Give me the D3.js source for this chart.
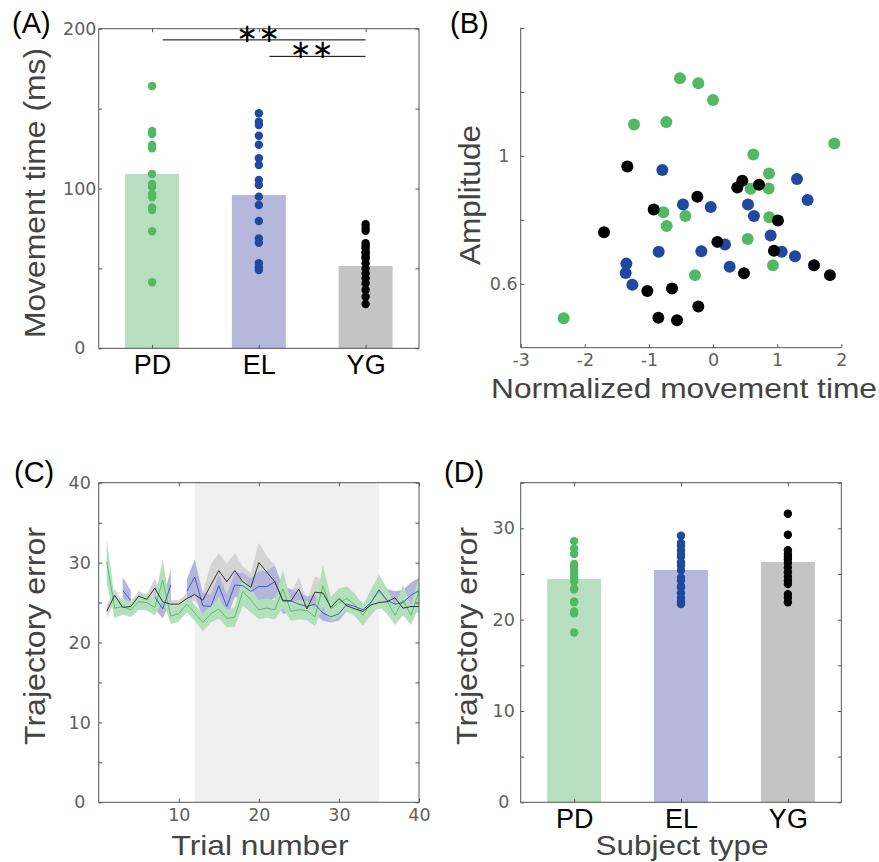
<!DOCTYPE html>
<html>
<head>
<meta charset="utf-8">
<script src="https://cdnjs.cloudflare.com/ajax/libs/d3/7.8.5/d3.min.js"></script>
<style>
body { margin: 0; background: #fff; }
</style>
</head>
<body>
<div id="vis"></div>
<script>
// ---- data ----
const groups = ["PD", "EL", "YG"];
const dotColors = ["#52b963", "#1f48a0", "#000000"];
const barColors = ["#b8dec0", "#b5b8da", "#c3c4c3"];
const lineColors = ["#5cbd6e", "#3d62c2", "#333333"];
const bandColors = ["#b3dfbb", "#b3b5dc", "#d4d4d4"];

// (A) movement time (ms)
const mtMean = [109.1, 95.9, 51.5];
const mtPD = [164.1, 136.0, 134.1, 127.2, 125.1, 109.1, 102.8, 101.1, 96.6, 94.5, 88.2, 86.5, 73.2, 41.3];
const mtEL = [147.1, 141.8, 139.7, 133.0, 127.4, 118.9, 114.7, 105.3, 102.2, 94.9, 89.7, 79.7, 68.8, 66.1, 53.2, 50.7, 49.0];
const mtYG = [77.7, 75.5, 73.6, 65.7, 64.0, 62.6, 60.5, 59.5, 57.5, 56.3, 53.2, 50.0, 46.9, 43.8, 40.6, 36.5, 32.3, 27.7];
const sigPairs = [["PD", "YG"], ["EL", "YG"]];

// (B) normalized movement time vs amplitude
const scPD = [[-0.516, 1.243], [-0.230, 1.227], [-0.001, 1.175], [-1.233, 1.098], [-0.729, 1.106], [1.891, 1.039],
	[0.628, 1.004], [0.872, 0.945], [0.586, 0.897], [0.867, 0.898], [-0.775, 0.824], [-0.432, 0.812],
	[-0.723, 0.781], [0.877, 0.808], [0.540, 0.740], [0.935, 0.658], [-0.282, 0.627], [-2.330, 0.492]];
const scEL = [[-0.791, 0.956], [1.309, 0.928], [1.475, 0.862], [-0.469, 0.848], [-0.037, 0.840], [0.545, 0.848],
	[0.638, 0.812], [0.898, 0.751], [0.186, 0.723], [-0.848, 0.700], [-0.183, 0.702], [1.070, 0.700],
	[1.278, 0.686], [0.259, 0.653], [-1.352, 0.663], [-1.363, 0.634], [-1.259, 0.597]];
const scYG = [[-1.337, 0.967], [0.456, 0.922], [0.378, 0.901], [0.716, 0.910], [-0.245, 0.872], [-0.926, 0.832],
	[1.012, 0.798], [-1.701, 0.761], [0.067, 0.731], [0.950, 0.703], [1.574, 0.658], [1.823, 0.627],
	[0.482, 0.633], [-1.025, 0.577], [-0.640, 0.585], [-0.230, 0.529], [-0.853, 0.494], [-0.562, 0.486]];

// (C) trajectory error per trial (mean, s.e.)
const trials = d3.range(1, 41);
const shadeTrials = [12, 35];
const tePDmean = [30.1, 24.3, 24.5, 24.1, 25.1, 25.0, 24.4, 27.8, 23.3, 23.6, 24.8, 23.7, 22.5, 23.6, 24.2, 23.0, 23.2, 26.4, 25.3, 24.1,
	24.3, 24.1, 26.7, 23.9, 24.1, 24.0, 23.2, 27.1, 24.2, 25.0, 25.5, 24.7, 23.4, 25.0, 26.5, 25.2, 23.4, 25.3, 23.4, 26.4];
const tePDse = [2.7, 1.3, 1.0, 0.9, 1.0, 1.0, 1.0, 2.6, 1.0, 1.0, 1.0, 1.0, 1.1, 1.1, 1.2, 1.1, 1.2, 1.8, 1.5, 1.2,
	1.2, 1.2, 2.4, 1.2, 1.2, 1.2, 1.2, 2.6, 1.5, 1.8, 1.5, 1.4, 1.3, 1.6, 2.0, 1.6, 1.2, 1.9, 1.2, 1.9];
const teELmean = [null, null, 26.5, 25.3, null, null, 25.7, 24.2, 27.2, null, 26.4, 28.2, 24.6, 24.5, 27.1, 24.5, 27.2, 27.1, 26.4, 27.0,
	27.0, 27.6, 25.3, 25.2, 24.8, 24.5, 24.8, 23.7, 23.2, 23.6, 24.8, 24.5, 24.1, 25.0, 26.6, 25.3, 24.8, 25.0, 25.9, 26.5];
const teELse = [null, null, 1.7, 1.2, null, null, 1.5, 1.2, 1.9, null, 1.5, 2.2, 1.6, 1.5, 1.4, 1.5, 1.5, 1.6, 1.6, 1.9,
	2.0, 2.0, 1.7, 1.5, 1.4, 1.3, 1.2, 1.0, 0.7, 0.8, 0.9, 0.9, 0.7, 0.8, 1.0, 1.4, 1.6, 1.6, 1.6, 1.6];
const teYGmean = [23.9, 25.9, 24.4, 24.5, 25.8, 25.4, 26.8, 25.1, 24.8, 24.8, 25.5, 26.0, 25.3, 27.2, 29.0, 27.6, 29.0, 27.6, 26.9, 30.0,
	28.8, 27.6, 25.2, 25.2, 26.7, 24.2, 26.3, 26.2, 24.4, 25.5, 24.6, 24.2, 23.9, 24.7, 25.0, 25.1, 25.6, 24.3, 24.5, 24.5];
const teYGse = [0.8, 0.8, 0.6, 0.6, 0.6, 0.6, 1.2, 0.8, 0.5, 0.5, 0.6, 0.8, 1.0, 2.6, 2.2, 2.3, 2.2, 1.9, 1.8, 2.5,
	2.0, 2.1, 1.0, 1.0, 1.5, 1.0, 2.0, 1.6, 1.0, 1.0, 0.8, 0.8, 0.8, 0.8, 0.8, 0.8, 0.8, 0.8, 0.8, 0.8];

// (D) trajectory error per subject
const teMean = [24.45, 25.44, 26.31];
const tePD = [28.6, 27.8, 27.2, 26.1, 25.8, 25.4, 25.0, 24.6, 24.2, 23.4, 23.3, 22.0, 21.9, 20.9, 20.7, 18.6];
const teEL = [29.2, 28.4, 28.1, 27.6, 27.2, 26.9, 26.3, 25.9, 25.4, 24.6, 24.3, 23.7, 23.5, 22.9, 22.4, 22.0, 21.7];
const teYG = [31.6, 29.3, 27.6, 27.2, 26.9, 26.6, 26.2, 25.7, 25.2, 24.7, 24.3, 23.9, 22.8, 22.4, 21.9];

// ---- drawing ----
const W = 879, H = 862;
const TICK = 3.5;
const axisColor = "#555";
const labelFont = "'Liberation Sans', Arial, sans-serif";
const tickFont = "'DejaVu Sans', sans-serif";

const svg = d3.select("#vis").append("svg")
	.attr("width", W)
	.attr("height", H)
	.style("font-family", labelFont);

const boxA = { l: 98.7, r: 419, t: 28.7, b: 348.3 };
const boxB = { l: 520.7, r: 841.3, t: 28, b: 347.7 };
const boxC = { l: 98.7, r: 419, t: 482.7, b: 802.3 };
const boxD = { l: 520.7, r: 841.3, t: 482.7, b: 802.3 };

const styleAxis = (sel) => {
	sel.select(".domain").remove();
	sel.selectAll(".tick line").attr("stroke", axisColor);
	sel.selectAll(".tick text")
		.attr("fill", "#606060")
		.attr("font-family", tickFont)
		.attr("font-size", 17.5);
};

const frame = (g, box) => {
	g.append("rect")
		.attr("x", box.l).attr("y", box.t)
		.attr("width", box.r - box.l).attr("height", box.b - box.t)
		.attr("fill", "none").attr("stroke", axisColor).attr("stroke-width", 1);
};

const yAxes = (g, box, y, values, fmt, labelDx, both) => {
	const left = g.append("g").attr("transform", `translate(${box.l},0)`)
		.call(d3.axisLeft(y).tickValues(values).tickSize(-TICK).tickFormat(fmt));
	styleAxis(left);
	left.selectAll(".tick text").attr("x", -labelDx).attr("text-anchor", "middle");
	if (both) {
		const right = g.append("g").attr("transform", `translate(${box.r},0)`)
			.call(d3.axisRight(y).tickValues(values).tickSize(-TICK).tickFormat(""));
		styleAxis(right);
	}
};

const panelLabel = (txt, x, y) => {
	svg.append("text").attr("x", x).attr("y", y)
		.attr("font-size", 29).attr("fill", "#000").text(txt);
};

const yTitle = (txt, x, y, len) => {
	svg.append("text")
		.attr("transform", `translate(${x},${y}) rotate(-90)`)
		.attr("text-anchor", "middle")
		.attr("font-size", 30).attr("fill", "#444")
		.attr("textLength", len).attr("lengthAdjust", "spacingAndGlyphs")
		.text(txt);
};

const xTitle = (txt, x, y, len) => {
	svg.append("text")
		.attr("x", x).attr("y", y)
		.attr("text-anchor", "middle")
		.attr("font-size", 28).attr("fill", "#444")
		.attr("textLength", len).attr("lengthAdjust", "spacingAndGlyphs")
		.text(txt);
};

const barPanel = (box, means, dotSets, yMax, step, fmt, labelDx) => {
	const g = svg.append("g");
	const x = d3.scalePoint().domain(groups).range([box.l, box.r]).padding(0.5);
	const y = d3.scaleLinear().domain([0, yMax]).range([box.b, box.t]);
	const bw = x.step() * 0.505;

	g.selectAll("rect.bar").data(groups).join("rect")
		.attr("class", "bar")
		.attr("x", d => x(d) - bw / 2)
		.attr("y", (d, i) => y(means[i]))
		.attr("width", bw)
		.attr("height", (d, i) => y(0) - y(means[i]))
		.attr("fill", (d, i) => barColors[i]);

	groups.forEach((grp, i) => {
		g.append("g").selectAll("circle").data(dotSets[i]).join("circle")
			.attr("cx", x(grp))
			.attr("cy", d => y(d))
			.attr("r", 4.2)
			.attr("fill", dotColors[i]);
	});

	frame(g, box);
	yAxes(g, box, y, d3.range(0, yMax + 0.001, step), fmt, labelDx, true);

	const top = g.append("g").attr("transform", `translate(0,${box.t})`)
		.call(d3.axisTop(x).tickSize(-TICK).tickFormat(""));
	styleAxis(top);
	const bottom = g.append("g").attr("transform", `translate(0,${box.b})`)
		.call(d3.axisBottom(x).tickSize(-TICK).tickPadding(7));
	styleAxis(bottom);
	bottom.selectAll(".tick text")
		.attr("font-family", labelFont)
		.attr("font-size", 27)
		.attr("fill", "#000");
	return { x, y, g };
};

// (A)
const pa = barPanel(boxA, mtMean, [mtPD, mtEL, mtYG], 200, 50, d => (d % 100 === 0 ? d : ""), 19);
const sigY = [193, 182.7];
sigPairs.forEach((p, i) => {
	const x1 = pa.x(p[0]) + 10.6, x2 = pa.x(p[1]);
	const yy = pa.y(sigY[i]);
	const mid = (x1 + x2) / 2 - 6;
	pa.g.append("line")
		.attr("x1", x1).attr("x2", x2).attr("y1", yy).attr("y2", yy)
		.attr("stroke", "#000").attr("stroke-width", 1);
	[-11, 11].forEach(dx => {
		pa.g.append("text")
			.attr("x", mid + dx).attr("y", yy + 2)
			.attr("text-anchor", "middle")
			.attr("font-family", tickFont)
			.attr("font-size", 26)
			.attr("fill", "#000")
			.text("\u2217");
	});
});
panelLabel("(A)", 12, 33);
yTitle("Movement time (ms)", 45, 193, 290);

// (B)
{
	const g = svg.append("g");
	const x = d3.scaleLinear().domain([-3, 2]).range([boxB.l, boxB.r]);
	const y = d3.scaleLinear().domain([0.4, 1.4]).range([boxB.b, boxB.t]);
	[scPD, scEL, scYG].forEach((set, i) => {
		g.append("g").selectAll("circle").data(set).join("circle")
			.attr("cx", d => x(d[0]))
			.attr("cy", d => y(d[1]))
			.attr("r", 6)
			.attr("fill", dotColors[i]);
	});
	g.append("path")
		.attr("d", `M${boxB.l},${boxB.t}V${boxB.b}H${boxB.r}`)
		.attr("fill", "none").attr("stroke", axisColor);
	yAxes(g, boxB, y, [0.6, 0.8, 1.0, 1.2, 1.4], d => (d === 1 ? "1" : d === 0.6 ? "0.6" : ""), 17, false);
	const bottom = g.append("g").attr("transform", `translate(0,${boxB.b})`)
		.call(d3.axisBottom(x).tickValues([-3, -2, -1, 0, 1, 2]).tickSize(-TICK).tickPadding(6).tickFormat(d3.format("d")));
	styleAxis(bottom);
	bottom.selectAll(".tick text").text(d => (d < 0 ? "-" + Math.abs(d) : d));
}
panelLabel("(B)", 450, 33);
yTitle("Amplitude", 480, 195, 140);
xTitle("Normalized movement time", 684, 398, 386);

// (C)
{
	const g = svg.append("g");
	const x = d3.scaleLinear().domain([0, 40]).range([boxC.l, boxC.r]);
	const y = d3.scaleLinear().domain([0, 40]).range([boxC.b, boxC.t]);
	g.append("rect")
		.attr("x", x(shadeTrials[0])).attr("y", boxC.t)
		.attr("width", x(shadeTrials[1]) - x(shadeTrials[0]))
		.attr("height", boxC.b - boxC.t)
		.attr("fill", "#f0f0f0");

	const series = [[tePDmean, tePDse], [teELmean, teELse], [teYGmean, teYGse]].map(([m, s]) =>
		trials.map((t, i) => ({ t, m: m[i], s: s[i] })));

	const area = d3.area()
		.defined(d => d.m != null)
		.x(d => x(d.t))
		.y0(d => y(d.m - d.s))
		.y1(d => y(d.m + d.s));
	const line = d3.line()
		.defined(d => d.m != null)
		.x(d => x(d.t))
		.y(d => y(d.m));

	[2, 1, 0].forEach(i => {
		g.append("path").attr("d", area(series[i])).attr("fill", bandColors[i]);
	});
	[0, 1, 2].forEach(i => {
		g.append("path").attr("d", line(series[i]))
			.attr("fill", "none").attr("stroke", lineColors[i]).attr("stroke-width", 1);
	});

	frame(g, boxC);
	yAxes(g, boxC, y, d3.range(0, 40.001, 5), d => (d % 10 === 0 ? d : ""), 19, true);
	const xt = [10, 20, 30, 40];
	const bottom = g.append("g").attr("transform", `translate(0,${boxC.b})`)
		.call(d3.axisBottom(x).tickValues(xt).tickSize(-TICK).tickPadding(6));
	styleAxis(bottom);
	const top = g.append("g").attr("transform", `translate(0,${boxC.t})`)
		.call(d3.axisTop(x).tickValues(xt).tickSize(-TICK).tickFormat(""));
	styleAxis(top);
}
panelLabel("(C)", 14, 482);
yTitle("Trajectory error", 45, 636, 218);
xTitle("Trial number", 260, 855, 177);

// (D)
barPanel(boxD, teMean, [tePD, teEL, teYG], 35, 5, d => (d % 10 === 0 ? d : ""), 17);
panelLabel("(D)", 444, 482);
yTitle("Trajectory error", 477, 636, 218);
xTitle("Subject type", 682, 855, 173);
</script>
</body>
</html>
